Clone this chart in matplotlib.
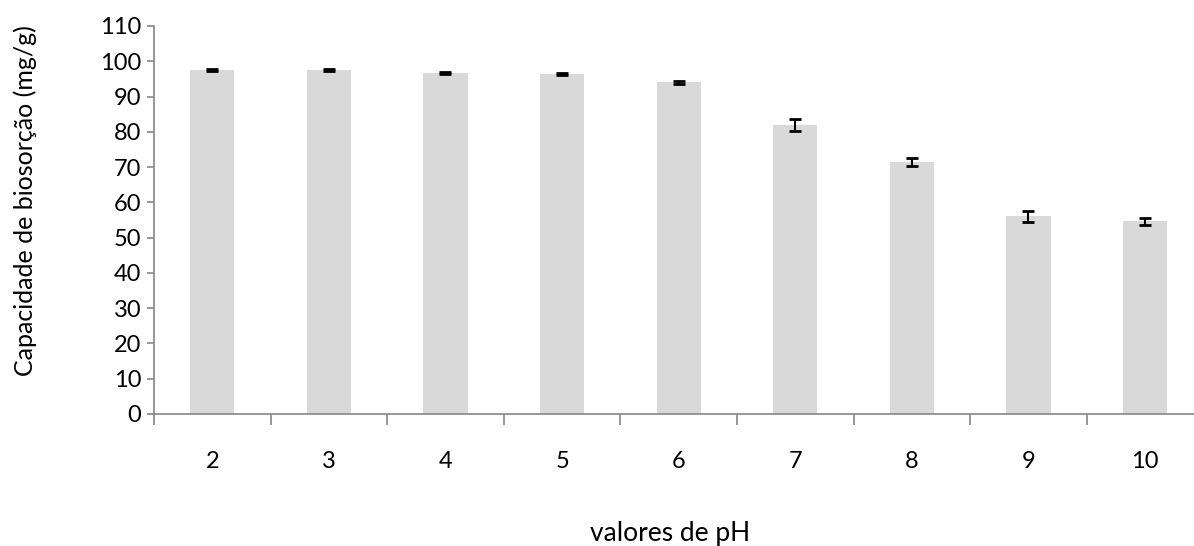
import matplotlib
matplotlib.use("Agg")
import matplotlib.pyplot as plt
import numpy as np

plt.rcParams['font.family'] = ['Lato', 'DejaVu Sans']

ph_labels = ["2", "3", "4", "5", "6", "7", "8", "9", "10"]
capacity = [97.6, 97.5, 96.7, 96.4, 94.0, 81.9, 71.4, 56.0, 54.6]
errors = [0.3, 0.3, 0.3, 0.3, 0.5, 1.6, 1.2, 1.5, 1.1]

fig = plt.figure(figsize=(11.94, 5.46), dpi=100)
ax = fig.add_axes([154/1194, 1-414/546, 9*116.6/1194, (414-26)/546])

x = np.arange(len(ph_labels))
ax.bar(x, capacity, width=0.38, color="#d9d9d9", zorder=2)
ax.errorbar(x, capacity, yerr=errors, fmt='none', ecolor='black',
            elinewidth=1.5, capsize=4.3, capthick=2, zorder=3)

ax.set_xlim(-0.5, len(ph_labels) - 0.5)
ax.set_ylim(0, 110)
ax.set_yticks(np.arange(0, 111, 10))

ax.set_xticks(x)
ax.set_xticklabels(ph_labels, fontsize=17)
ax.tick_params(axis='x', which='major', length=0, pad=27)
ax.set_xticks(np.arange(-0.5, len(ph_labels), 1), minor=True)
ax.tick_params(axis='x', which='minor', length=8, width=1.2, color='#868686', direction='out')
ax.tick_params(axis='y', length=5, width=1.2, color='#868686', labelsize=17, pad=4)

for s in ['top', 'right']:
    ax.spines[s].set_visible(False)
for s in ['left', 'bottom']:
    ax.spines[s].set_color('#868686')
    ax.spines[s].set_linewidth(1.2)

fig.text(25/1194, 1-201/546, "Capacidade de biosorção (mg/g)", fontsize=18,
         rotation=90, ha='center', va='center')
fig.text(670/1194, 1-533/546, "valores de pH", fontsize=19, ha='center', va='center')

fig.savefig("out.png", dpi=100)
